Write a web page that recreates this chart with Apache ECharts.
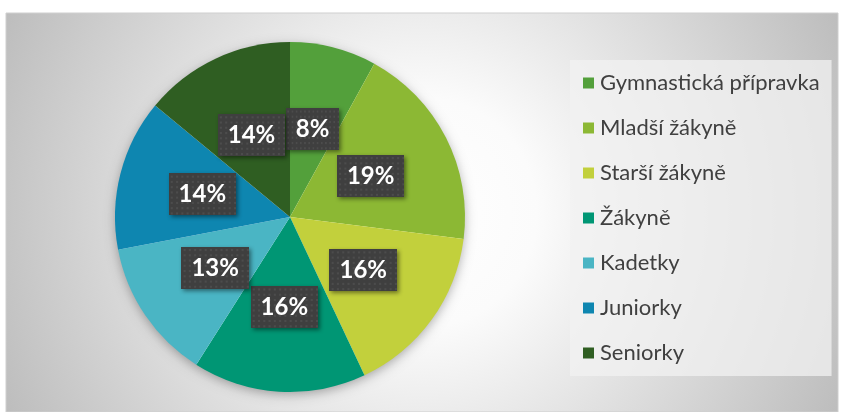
<!DOCTYPE html>
<html>
<head>
<meta charset="utf-8">
<script src="https://cdn.jsdelivr.net/npm/echarts@6/dist/echarts.min.js"></script>
<style>
  html, body { margin: 0; padding: 0; background: #fff; }
  #chart { width: 841px; height: 412px; }
</style>
</head>
<body>
<div id="chart"></div>
<script>
var categories = ['Gymnastická přípravka', 'Mladší žákyně', 'Starší žákyně', 'Žákyně', 'Kadetky', 'Juniorky', 'Seniorky'];
var shares = [8, 19, 16, 16, 13, 14, 14];
var colors = ['#53a03b', '#8cb834', '#c2d03c', '#009674', '#4ab5c4', '#0e86b0', '#2f5e22'];

// dotted dark tile for the data labels
function makePattern() {
    var c = document.createElement('canvas');
    c.width = 64;
    c.height = 40;
    var ctx = c.getContext('2d');
    ctx.fillStyle = '#3f3f3f';
    ctx.fillRect(0, 0, c.width, c.height);
    ctx.fillStyle = '#4c4c4c';
    for (var y = 2; y < c.height; y += 5) {
        for (var x = 2; x < c.width; x += 5) {
            ctx.fillRect(x, y, 2, 2);
        }
    }
    return c;
}

var chart = echarts.init(document.getElementById('chart'));
var pattern = makePattern();

var option = {
    color: colors,
    graphic: [{
        type: 'rect',
        z: -10,
        silent: true,
        shape: { x: 6, y: 13, width: 832, height: 399 },
        style: {
            fill: {
                type: 'radial', x: 0.5, y: 0.5, r: 1.15,
                colorStops: [
                    { offset: 0, color: '#ffffff' },
                    { offset: 0.25, color: '#fbfbfb' },
                    { offset: 1, color: '#bdbdbd' }
                ]
            },
            stroke: '#cfcfcf',
            lineWidth: 1
        }
    }],
    legend: {
        orient: 'vertical',
        left: 570,
        top: 60,
        padding: [12, 12, 12, 13],
        backgroundColor: 'rgba(242,242,242,0.75)',
        itemWidth: 11,
        itemHeight: 11,
        itemGap: 23,
        icon: 'rect',
        textStyle: {
            fontFamily: 'Lato',
            fontSize: 22,
            color: '#404040',
            padding: [0, 0, 0, 1]
        },
        data: categories
    },
    series: [{
        // soft shadow under the pie
        type: 'pie',
        silent: true,
        center: [290, 217],
        radius: 174,
        label: { show: false },
        itemStyle: {
            color: '#ffffff',
            shadowBlur: 12,
            shadowOffsetY: 3,
            shadowColor: 'rgba(0,0,0,0.35)'
        },
        data: [{ value: 1, name: '' }],
        z: 1
    }, {
        type: 'pie',
        center: [290, 217],
        radius: 175,
        startAngle: 90,
        percentPrecision: 0,
        label: {
            show: true,
            position: 'inside',
            formatter: '{d}%',
            color: '#ffffff',
            fontFamily: 'Lato',
            fontWeight: 'bold',
            fontSize: 24,
            backgroundColor: { image: pattern },
            padding: [10, 10, 8, 10],
            shadowBlur: 4,
            shadowOffsetX: 2,
            shadowOffsetY: 2,
            shadowColor: 'rgba(0,0,0,0.45)'
        },
        labelLine: { show: false },
        emphasis: { scale: false },
        itemStyle: { borderWidth: 0 },
        data: categories.map(function (name, i) {
            return { name: name, value: shares[i] };
        }),
        z: 2
    }]
};

chart.setOption(option);
</script>
</body>
</html>
